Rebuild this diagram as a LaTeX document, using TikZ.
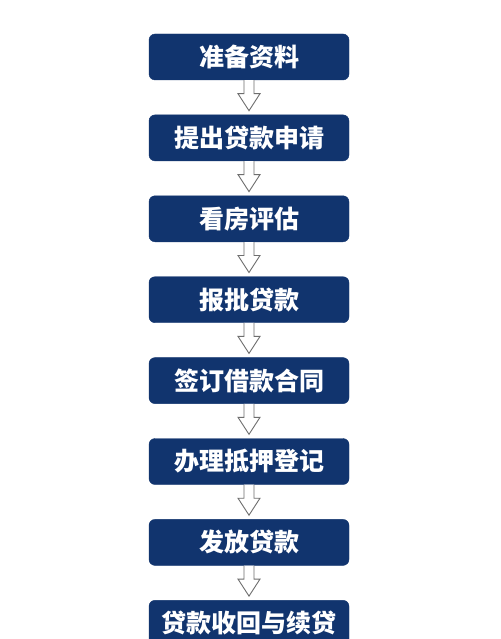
\documentclass[tikz,border=0pt]{standalone}
\usepackage{fontspec}
\newfontfamily\cjk{Noto Sans CJK SC}
\usetikzlibrary{positioning, calc}

\definecolor{boxblue}{RGB}{17,52,110}
\definecolor{arrowgray}{RGB}{110,110,110}

% hollow arrow between two steps
\newcommand{\steparrow}[2]{%
  \draw[hollowarrow] ($(#1.south)+(-5,0)$) -- ($(#2.north)+(-5,21)$)
    -- ($(#2.north)+(-11,21)$) -- ($(#2.north)+(0,4)$)
    -- ($(#2.north)+(11,21)$) -- ($(#2.north)+(5,21)$)
    -- ($(#1.south)+(5,0)$);
}

\begin{document}
\begin{tikzpicture}[x=1pt, y=1pt, node distance=80.9pt, on grid]

    \tikzset{
        stepbox/.style={draw=boxblue, fill=boxblue, rounded corners=6pt, minimum width=200pt, minimum height=46pt, inner sep=0pt, text=white, font=\cjk\bfseries\fontsize{25}{30}\selectfont},
        hollowarrow/.style={draw=arrowgray, fill=white, line width=0.9pt, line join=miter}
    }

    \useasboundingbox (0,0) rectangle (500,-639);
    \fill[white] (0,0) rectangle (500,-639);

    % Steps
    \node[stepbox] (s0) at (249,-57) {准备资料};
    \node[stepbox] (s1) [below=of s0] {提出贷款申请};
    \node[stepbox] (s2) [below=of s1] {看房评估};
    \node[stepbox] (s3) [below=of s2] {报批贷款};
    \node[stepbox] (s4) [below=of s3] {签订借款合同};
    \node[stepbox] (s5) [below=of s4] {办理抵押登记};
    \node[stepbox] (s6) [below=of s5] {发放贷款};
    \node[stepbox] (s7) [below=of s6] {贷款收回与续贷};

    % Arrows
    \steparrow{s0}{s1}
    \steparrow{s1}{s2}
    \steparrow{s2}{s3}
    \steparrow{s3}{s4}
    \steparrow{s4}{s5}
    \steparrow{s5}{s6}
    \steparrow{s6}{s7}

\end{tikzpicture}
\end{document}
